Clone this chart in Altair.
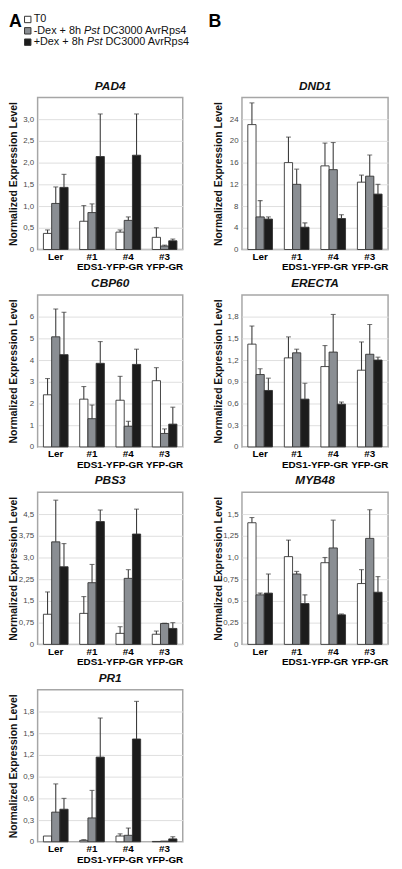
import altair as alt
import pandas as pd

# ---------------- data ----------------
groups = ["Ler", "#1", "#4", "#3"]
series_key = ["t0", "mdex", "pdex"]
series_colors = ["#ffffff", "#8a8e93", "#1c1c1c"]
legend_prefix = ["T0", "-Dex + 8h", "+Dex + 8h"]
legend_italic = ["", "Pst", "Pst"]
legend_suffix = ["", "DC3000 AvrRps4", "DC3000 AvrRps4"]
line2_text = ["EDS1-YFP-GR", "YFP-GR"]
y_title = "Normalized Expression Level"

# rows: T0, -Dex, +Dex ; columns: Ler, #1, #4, #3
PAD4_MEAN = [[0.37, 0.65, 0.40, 0.28], [1.06, 0.85, 0.67, 0.08], [1.43, 2.14, 2.17, 0.20]]
PAD4_ERR = [[0.08, 0.36, 0.05, 0.22], [0.38, 0.20, 0.08, 0.02], [0.30, 0.98, 0.95, 0.04]]
PAD4_TICKS = [0, 0.5, 1.0, 1.5, 2.0, 2.5, 3.0]
PAD4_LABELS = ["0", "0,5", "1,0", "1,5", "2,0", "2,5", "3,0"]

DND1_MEAN = [[23.0, 16.0, 15.4, 12.4], [6.0, 12.0, 14.7, 13.5], [5.6, 4.1, 5.7, 10.2]]
DND1_ERR = [[4.0, 4.7, 4.2, 1.3], [3.0, 2.8, 5.0, 3.9], [0.4, 0.8, 0.7, 1.8]]
DND1_TICKS = [0, 4, 8, 12, 16, 20, 24]
DND1_LABELS = ["0", "4", "8", "12", "16", "20", "24"]

CBP60_MEAN = [[2.40, 2.20, 2.15, 3.05], [5.07, 1.30, 0.95, 0.62], [4.25, 3.85, 3.80, 1.05]]
CBP60_ERR = [[0.75, 0.58, 1.10, 0.60], [1.28, 0.63, 0.23, 0.21], [1.95, 1.00, 0.70, 0.78]]
CBP60_TICKS = [0, 1, 2, 3, 4, 5, 6]
CBP60_LABELS = ["0", "1", "2", "3", "4", "5", "6"]

ERECTA_MEAN = [[1.42, 1.23, 1.11, 1.06], [1.00, 1.30, 1.31, 1.28], [0.78, 0.66, 0.59, 1.20]]
ERECTA_ERR = [[0.25, 0.29, 0.29, 0.39], [0.08, 0.05, 0.52, 0.41], [0.17, 0.22, 0.03, 0.04]]
ERECTA_TICKS = [0, 0.3, 0.6, 0.9, 1.2, 1.5, 1.8]
ERECTA_LABELS = ["0", "0,3", "0,6", "0,9", "1,2", "1,5", "1,8"]

PBS3_MEAN = [[1.04, 1.07, 0.38, 0.35], [3.54, 2.13, 2.28, 0.72], [2.68, 4.24, 3.81, 0.55]]
PBS3_ERR = [[0.77, 0.58, 0.23, 0.11], [1.44, 0.63, 0.30, 0.01], [0.80, 0.40, 0.86, 0.20]]
PBS3_TICKS = [0, 0.75, 1.5, 2.25, 3.0, 3.75, 4.5]
PBS3_LABELS = ["0", "0,75", "1,5", "2,25", "3,0", "3,75", "4,5"]

MYB48_MEAN = [[1.40, 1.01, 0.94, 0.70], [0.57, 0.81, 1.11, 1.22], [0.59, 0.47, 0.34, 0.60]]
MYB48_ERR = [[0.06, 0.19, 0.06, 0.16], [0.02, 0.03, 0.32, 0.33], [0.22, 0.10, 0.01, 0.18]]
MYB48_TICKS = [0, 0.25, 0.5, 0.75, 1.0, 1.25, 1.5]
MYB48_LABELS = ["0", "0,25", "0,5", "0,75", "1,0", "1,25", "1,5"]

PR1_MEAN = [[0.08, 0.02, 0.08, 0.005], [0.41, 0.33, 0.09, 0.01], [0.45, 1.17, 1.42, 0.04]]
PR1_ERR = [[0.0, 0.01, 0.03, 0.0], [0.39, 0.38, 0.10, 0.0], [0.15, 0.54, 0.52, 0.03]]
PR1_TICKS = [0, 0.3, 0.6, 0.9, 1.2, 1.5, 1.8]
PR1_LABELS = ["0", "0,3", "0,6", "0,9", "1,2", "1,5", "1,8"]

# ---------------- style ----------------
FONT = "Liberation Sans"
PW_L, PW_R, PH = 147, 148, 154
ERR_COLOR = "#3c3c3c"
NO_FRAME = alt.ViewBackground(strokeOpacity=0, strokeWidth=0)

ARIAL = {" ": 278, "+": 584, "-": 333, "0": 556, "3": 556, "4": 556, "8": 556, "A": 667,
         "C": 722, "D": 722, "P": 667, "R": 722, "T": 611, "e": 556, "h": 556, "p": 556,
         "r": 333, "s": 500, "t": 278, "v": 500, "x": 500}


def tw(s, size):
    return sum(ARIAL.get(c, 556) for c in s) * size / 1000.0


def panel(gene, mean, err, ymax, ticks, labels, width):
    rows = []
    for si, s in enumerate(series_key):
        for gi, g in enumerate(groups):
            m, e = mean[si][gi], err[si][gi]
            rows.append(dict(grp=g, series=s, mean=m, err=e, hi=m + e))
    df = pd.DataFrame(rows)
    label_expr = ("[" + ",".join("'%s'" % l for l in labels) + "][indexof(["
                  + ",".join(repr(t) for t in ticks) + "], datum.value)]")
    xscale = alt.Scale(domain=groups, paddingInner=0.32, paddingOuter=0.16)
    x = alt.X("grp:N", sort=groups, scale=xscale,
              axis=alt.Axis(title=None, labelAngle=0, labelFontWeight="bold", labelFontSize=10,
                            labelColor="#000000", labelPadding=2, ticks=False,
                            domain=False, labelFont=FONT, grid=False))
    xo = alt.XOffset("series:N", sort=series_key, scale=alt.Scale(domain=series_key))
    yaxis = alt.Axis(values=ticks, labelExpr=label_expr, title=y_title, titleFont=FONT,
                     titleFontSize=10.5, titleFontWeight="bold", titleColor="#111111",
                     titlePadding=3, labelFont=FONT, labelFontSize=8, labelColor="#4a4a4a",
                     labelPadding=4, ticks=False, domain=False, grid=True,
                     gridColor="#dedede", gridWidth=1, minExtent=16, maxExtent=16)
    yscale = alt.Scale(domain=[0, ymax], nice=False, zero=True)
    base = alt.Chart(df)
    bars = base.mark_bar(stroke="#333333", strokeWidth=0.9).encode(
        x=x, xOffset=xo,
        y=alt.Y("mean:Q", scale=yscale, axis=yaxis),
        fill=alt.Fill("series:N", scale=alt.Scale(domain=series_key, range=series_colors), legend=None),
    )
    errdf = base.transform_filter("datum.err > 0")
    rules = errdf.mark_rule(color=ERR_COLOR, strokeWidth=1.1).encode(
        x=x, xOffset=xo, y=alt.Y("mean:Q", scale=yscale, axis=yaxis), y2="hi:Q")
    caps = errdf.mark_tick(color=ERR_COLOR, thickness=1.1, size=5, orient="horizontal").encode(
        x=x, xOffset=xo, y=alt.Y("hi:Q", scale=yscale, axis=yaxis))
    step = width / 4.0
    t1 = alt.Chart(pd.DataFrame({"grp": ["#1"], "t": [line2_text[0]]})).mark_text(
        font=FONT, fontSize=10, fontWeight="bold", color="#000000", dx=step / 2, baseline="top"
    ).encode(x=x, text="t:N", y=alt.value(PH + 13))
    t2 = alt.Chart(pd.DataFrame({"grp": ["#3"], "t": [line2_text[1]]})).mark_text(
        font=FONT, fontSize=10, fontWeight="bold", color="#000000", baseline="top"
    ).encode(x=x, text="t:N", y=alt.value(PH + 13))
    return alt.layer(bars, rules, caps, t1, t2).properties(
        width=width, height=PH,
        title=alt.TitleParams(gene, font=FONT, fontSize=12, fontWeight="bold", fontStyle="italic",
                              color="#111111", offset=5, anchor="middle"),
    )


# ---------------- header (panel letters + legend) ----------------
LEG_FS = 11
LEG_X = -4
SP = tw(" ", LEG_FS)
leg_rows = []
for i, k in enumerate(series_key):
    x_it = LEG_X + tw(legend_prefix[i], LEG_FS) + SP
    x_suf = x_it + tw(legend_italic[i], LEG_FS) + SP
    leg_rows.append(dict(series=k, pre=legend_prefix[i], it=legend_italic[i], suf=legend_suffix[i],
                         x_it=x_it, x_suf=x_suf))
leg_df = pd.DataFrame(leg_rows)
ly = alt.Y("series:N", sort=series_key, axis=None,
           scale=alt.Scale(type="point", domain=series_key, range=[5, 28], padding=0))
leg_base = alt.Chart(leg_df)
sq = leg_base.mark_square(size=42, stroke="#333333", strokeWidth=1, opacity=1).encode(
    x=alt.value(-10), y=ly,
    fill=alt.Fill("series:N", scale=alt.Scale(domain=series_key, range=series_colors), legend=None))
tx_pre = leg_base.mark_text(font=FONT, fontSize=LEG_FS, align="left", baseline="middle", color="#111111").encode(
    x=alt.value(LEG_X), y=ly, text="pre:N")
tx_it = leg_base.mark_text(font=FONT, fontSize=LEG_FS, fontStyle="italic", align="left", baseline="middle",
                           color="#111111").encode(x=alt.X("x_it:Q", scale=None), y=ly, text="it:N")
tx_suf = leg_base.mark_text(font=FONT, fontSize=LEG_FS, align="left", baseline="middle", color="#111111").encode(
    x=alt.X("x_suf:Q", scale=None), y=ly, text="suf:N")
letter_a = alt.Chart(pd.DataFrame({"t": ["A"]})).mark_text(
    font=FONT, fontSize=18, fontWeight="bold", align="left", baseline="top", color="#000000"
).encode(x=alt.value(-29), y=alt.value(-1), text="t:N")
header_l = alt.layer(sq, tx_pre, tx_it, tx_suf, letter_a).properties(
    width=PW_L, height=38, view=NO_FRAME)
header_r = alt.Chart(pd.DataFrame({"t": ["B"]})).mark_text(
    font=FONT, fontSize=18, fontWeight="bold", align="left", baseline="top", color="#000000"
).encode(x=alt.value(-34), y=alt.value(-1), text="t:N").properties(
    width=PW_R, height=38, view=NO_FRAME)

# ---------------- panels ----------------
p_pad4 = panel("PAD4", PAD4_MEAN, PAD4_ERR, 3.5, PAD4_TICKS, PAD4_LABELS, PW_L)
p_dnd1 = panel("DND1", DND1_MEAN, DND1_ERR, 28, DND1_TICKS, DND1_LABELS, PW_R)
p_cbp60 = panel("CBP60", CBP60_MEAN, CBP60_ERR, 7, CBP60_TICKS, CBP60_LABELS, PW_L)
p_erecta = panel("ERECTA", ERECTA_MEAN, ERECTA_ERR, 2.1, ERECTA_TICKS, ERECTA_LABELS, PW_R)
p_pbs3 = panel("PBS3", PBS3_MEAN, PBS3_ERR, 5.25, PBS3_TICKS, PBS3_LABELS, PW_L)
p_myb48 = panel("MYB48", MYB48_MEAN, MYB48_ERR, 1.75, MYB48_TICKS, MYB48_LABELS, PW_R)
p_pr1 = panel("PR1", PR1_MEAN, PR1_ERR, 2.1, PR1_TICKS, PR1_LABELS, PW_L)

chart = alt.concat(
    header_l, header_r, p_pad4, p_dnd1, p_cbp60, p_erecta, p_pbs3, p_myb48, p_pr1,
    columns=2, spacing=alt.RowColnumber(row=46, column=60) if hasattr(alt, "RowColnumber") else 46,
    bounds="flush",
).properties(
    padding={"left": 0, "top": 0, "right": 4, "bottom": 4},
    background="#ffffff",
).configure_view(stroke="#a6a6a6", strokeWidth=1.5)

chart.save("out.html", embed_options={"renderer": "svg", "actions": False})
